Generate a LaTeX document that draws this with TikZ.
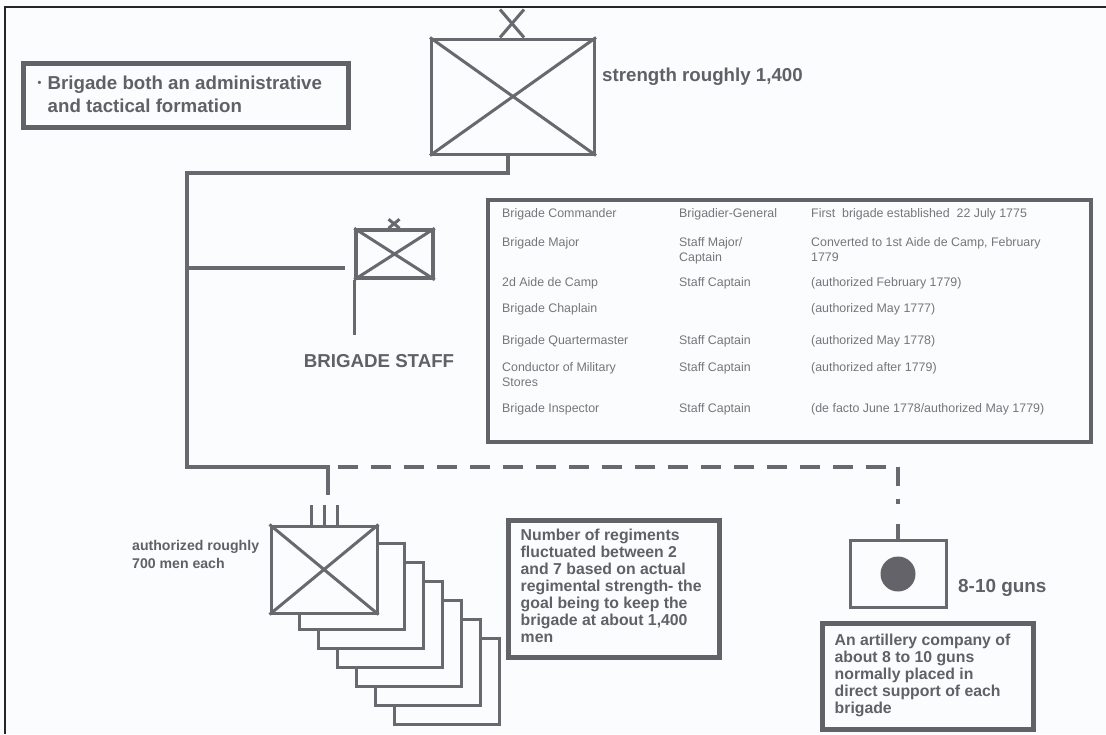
\documentclass[tikz,border=0pt]{standalone}
\usepackage{fontspec}
\setmainfont{Liberation Sans}
\usetikzlibrary{positioning}

\definecolor{linegray}{RGB}{104,104,110}
\definecolor{boxgray}{RGB}{98,98,104}
\definecolor{textgray}{RGB}{96,96,102}
\definecolor{cellgray}{RGB}{118,118,122}
\definecolor{paper}{RGB}{251,252,253}

\tikzset{
  unit/.style={draw=linegray,line width=3pt,fill=paper,inner sep=0pt},
  symline/.style={draw=linegray,line width=3pt},
  link/.style={draw=linegray,line width=4pt},
  note/.style={draw=boxgray,line width=5pt,inner sep=0pt},
  bigtext/.style={inner sep=0pt,text=textgray,font=\bfseries\fontsize{18.7}{23}\selectfont},
  notetext/.style={inner sep=0pt,align=left,text=textgray,font=\bfseries\fontsize{15.8}{17}\selectfont},
  cell/.style={anchor=north west,inner sep=0pt,align=left,text=cellgray,font=\fontsize{12.4}{15}\selectfont},
}

\begin{document}
\begin{tikzpicture}[x=1pt,y=-1pt]
  \useasboundingbox (0,0) rectangle (1106,734);
  \fill[paper] (0,0) rectangle (1106,734);
  \draw[black!85,line width=2pt] (5,734) -- (5,7) -- (1106,7);

  % brigade
  \node[unit,minimum width=163pt,minimum height=115pt] (brigade) at (513,96.5) {};
  \draw[symline] (brigade.north west) -- (brigade.south east)
                 (brigade.north east) -- (brigade.south west);
  \draw[symline] ([xshift=-13pt]brigade.north) -- ++(24,-28)
                 ([xshift=11pt]brigade.north) -- ++(-24,-28);
  \node[bigtext,anchor=west] (strength) at (602,77) {strength roughly 1,400};

  \node[note,minimum width=325pt,minimum height=64pt] (formation) at (185.5,95.5) {};
  \node[bigtext,align=left,below right=15pt and 17pt of formation.north west] (formtext)
    {\makebox[10pt][l]{\raisebox{3pt}{\fontsize{11}{11}\selectfont\textbullet}}Brigade both an administrative\\\hspace*{10pt}and tactical formation};

  % staff
  \node[unit,line width=3.5pt,minimum width=77pt,minimum height=48pt] (staff) at (394.5,254) {};
  \draw[symline] (staff.north west) -- (staff.south east)
                 (staff.north east) -- (staff.south west);
  \draw[symline] ([xshift=-6pt]staff.north) -- ++(11,-9)
                 ([xshift=5pt]staff.north) -- ++(-11,-9);
  \draw[link,line width=3.5pt] (staff.south west) -- ++(0,55);
  \node[bigtext] (stafftitle) at (379,361) {BRIGADE STAFF};

  \node[note,line width=4.5pt,minimum width=603pt,minimum height=242pt] (roster) at (789.5,321) {};
  \node[cell] (post1) at (502,208.4) {Brigade Commander};
  \node[cell] (grade1) at (679,208.4) {Brigadier-General};
  \node[cell] (remark1) at (811,208.4) {First\ \ brigade established\ \ 22 July 1775};
  \node[cell] (post2) at (502,237.4) {Brigade Major};
  \node[cell] (grade2) at (679,237.4) {Staff Major/\\Captain};
  \node[cell] (remark2) at (811,237.4) {Converted to 1st Aide de Camp, February\\1779};
  \node[cell] (post3) at (502,277.4) {2d Aide de Camp};
  \node[cell] (grade3) at (679,277.4) {Staff Captain};
  \node[cell] (remark3) at (811,277.4) {(authorized February 1779)};
  \node[cell] (post4) at (502,303.4) {Brigade Chaplain};
  \node[cell] (remark4) at (811,303.4) {(authorized May 1777)};
  \node[cell] (post5) at (502,335.4) {Brigade Quartermaster};
  \node[cell] (grade5) at (679,335.4) {Staff Captain};
  \node[cell] (remark5) at (811,335.4) {(authorized May 1778)};
  \node[cell] (post6) at (502,362.4) {Conductor of Military\\Stores};
  \node[cell] (grade6) at (679,362.4) {Staff Captain};
  \node[cell] (remark6) at (811,362.4) {(authorized after 1779)};
  \node[cell] (post7) at (502,403.4) {Brigade Inspector};
  \node[cell] (grade7) at (679,403.4) {Staff Captain};
  \node[cell] (remark7) at (811,403.4) {(de facto June 1778/authorized May 1779)};

  % regiments
  \foreach \k in {6,5,...,1}
    \node[unit,minimum width=105pt,minimum height=86pt] (reg\k) at ({332.5+19*\k},{567+19*\k}) {};
  \node[unit,minimum width=106pt,minimum height=87pt] (reg) at (324,569.5) {};
  \draw[symline] (reg.north west) -- (reg.south east)
                 (reg.north east) -- (reg.south west);
  \foreach \dx in {-13,0,13}
    \draw[symline] ([xshift=\dx pt]reg.north) -- ++(0,-20);
  \node[notetext,anchor=north west,font=\bfseries\fontsize{14.1}{18}\selectfont] (regtext) at (132,540)
    {authorized roughly\\700 men each};

  \node[note,minimum width=211pt,minimum height=137pt] (regnote) at (613.5,588.5) {};
  \node[notetext,below right=11pt and 15pt of regnote.north west] (regnotetext)
    {Number of regiments\\fluctuated between 2\\and 7 based on actual\\regimental strength- the\\goal being to keep the\\brigade at about 1,400\\men};

  % artillery
  \node[unit,minimum width=96pt,minimum height=67pt] (art) at (898,573.5) {};
  \fill[linegray!95!black] ([yshift=-0.5pt]art.center) circle (17.5pt);
  \node[bigtext,anchor=west,font=\bfseries\fontsize{18.9}{23}\selectfont] (guns) at (958,588) {8-10 guns};

  \node[note,minimum width=211pt,minimum height=106pt] (artnote) at (927.5,676) {};
  \node[notetext,below right=13pt and 15pt of artnote.north west] (artnotetext)
    {An artillery company of\\about 8 to 10 guns\\normally placed in\\direct support of each\\brigade};

  % connectors
  \coordinate (trunktop) at (187,173);
  \coordinate (trunkbot) at (187,467);
  \coordinate (staffjoin) at (187,268);
  \coordinate (regjoin) at (328,495);
  \coordinate (dashstart) at (338,467);
  \draw[link] ([xshift=-5pt]brigade.south) |- (trunktop) -- (trunkbot) -| (regjoin);
  \draw[link] (staffjoin) -- ([xshift=-9pt]staff.west |- staffjoin);
  \draw[link,dash pattern=on 20pt off 13pt] (dashstart) -- (dashstart -| art.north);
  \draw[link,dash pattern=on 19pt off 13pt on 5pt off 20pt on 30pt off 1pt] (dashstart -| art.north) -- (art.north);
\end{tikzpicture}
\end{document}
